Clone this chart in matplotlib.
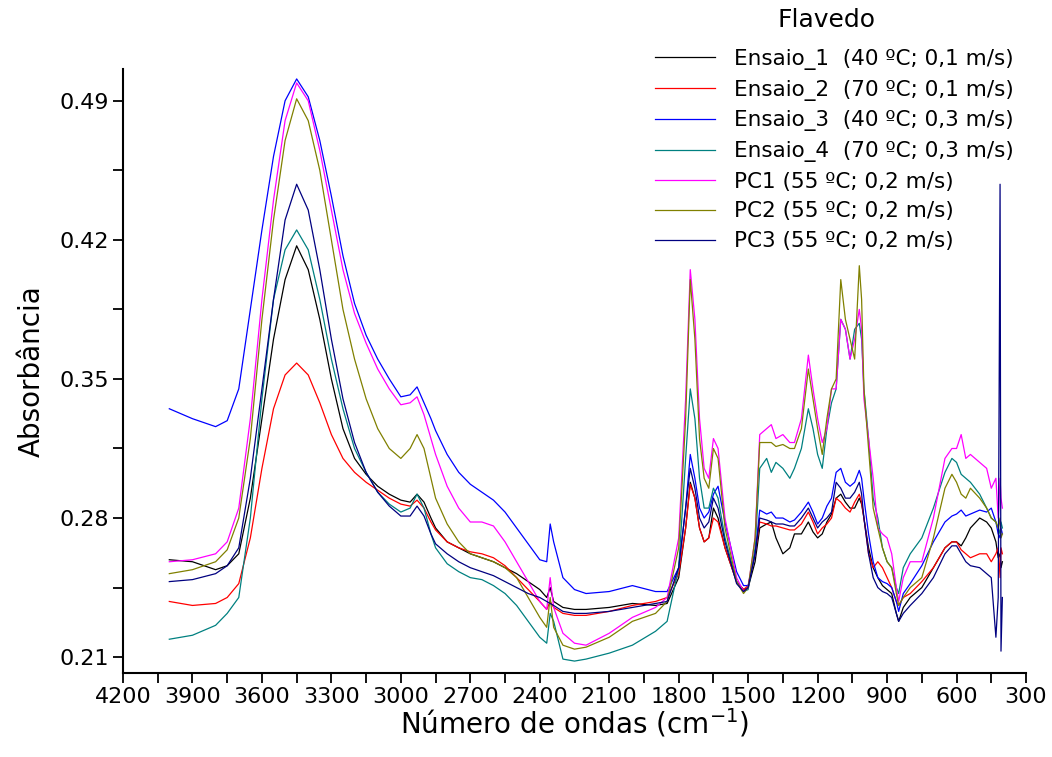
import matplotlib
matplotlib.use("Agg")
import matplotlib.pyplot as plt
from matplotlib.ticker import MultipleLocator

plt.rcParams['font.family'] = ['DejaVu Sans']

wavenumber = [
    4000, 3900, 3800, 3750, 3700, 3650, 3600, 3550, 3500, 3450,
    3400, 3350, 3300, 3250, 3200, 3150, 3100, 3050, 3000, 2960,
    2930, 2900, 2870, 2850, 2800, 2750, 2700, 2650, 2600, 2550,
    2500, 2450, 2400, 2370, 2355, 2340, 2300, 2250, 2200, 2100,
    2000, 1900, 1850, 1800, 1770, 1750, 1730, 1710, 1690, 1670,
    1650, 1630, 1600, 1550, 1520, 1500, 1470, 1450, 1420, 1400,
    1380, 1350, 1320, 1300, 1270, 1240, 1220, 1200, 1180, 1160,
    1140, 1120, 1100, 1080, 1060, 1040, 1020, 1010, 1000, 980,
    960, 940, 920, 900, 880, 860, 850, 830, 800, 750,
    700, 650, 620, 600, 580, 560, 540, 500, 470, 450,
    430, 420, 412, 408, 402,
]

ensaio_1 = [
    .259, .258, .254, .256, .262, .290, .330, .370, .400, .417,
    .405, .380, .350, .325, .310, .302, .296, .292, .289, .288,
    .292, .288, .280, .275, .268, .265, .262, .260, .258, .255,
    .252, .248, .244, .240, .245, .238, .235, .234, .234, .235,
    .237, .236, .237, .250, .275, .298, .290, .275, .268, .270,
    .285, .280, .265, .248, .244, .245, .258, .275, .277, .278,
    .270, .262, .265, .272, .272, .278, .273, .270, .272, .278,
    .282, .290, .292, .288, .285, .285, .290, .287, .280, .265,
    .255, .250, .246, .244, .242, .232, .228, .235, .240, .245,
    .255, .265, .268, .268, .266, .270, .275, .280, .278, .275,
    .268, .260, .262, .255, .258,
]

ensaio_2 = [
    .238, .236, .237, .240, .247, .270, .305, .335, .352, .358,
    .352, .338, .322, .310, .303, .298, .294, .290, .287, .286,
    .289, .285, .278, .274, .268, .265, .263, .262, .260, .256,
    .250, .244, .238, .234, .238, .235, .232, .231, .231, .233,
    .236, .238, .240, .252, .275, .297, .290, .275, .268, .270,
    .280, .278, .265, .248, .244, .246, .262, .278, .277, .276,
    .276, .275, .274, .274, .277, .283, .278, .272, .275, .277,
    .280, .290, .288, .285, .283, .288, .292, .288, .280, .262,
    .255, .258, .255, .250, .245, .238, .236, .240, .242, .248,
    .255, .265, .268, .268, .264, .262, .260, .262, .262, .258,
    .262, .265, .250, .265, .262,
]

ensaio_3 = [
    .335, .330, .326, .329, .345, .385, .425, .462, .490, .501,
    .492, .470, .442, .412, .388, .372, .360, .350, .341, .342,
    .346, .338, .330, .324, .312, .303, .297, .293, .289, .283,
    .275, .267, .259, .258, .277, .268, .250, .244, .242, .243,
    .246, .243, .243, .255, .285, .312, .300, .285, .280, .283,
    .292, .296, .278, .253, .246, .246, .262, .284, .282, .283,
    .280, .280, .278, .279, .283, .288, .283, .277, .280, .286,
    .290, .303, .305, .298, .296, .298, .304, .300, .290, .272,
    .258, .250, .248, .247, .245, .238, .233, .242, .247, .256,
    .268, .278, .281, .282, .284, .281, .282, .284, .283, .285,
    .278, .272, .270, .275, .272,
]

ensaio_4 = [
    .219, .221, .226, .232, .240, .280, .340, .390, .415, .425,
    .415, .390, .360, .335, .315, .303, .293, .287, .283, .285,
    .292, .285, .272, .265, .257, .253, .250, .249, .246, .242,
    .236, .228, .220, .217, .232, .228, .209, .208, .209, .212,
    .216, .223, .228, .255, .310, .345, .330, .300, .285, .285,
    .295, .290, .270, .248, .243, .244, .265, .305, .310, .303,
    .308, .305, .300, .305, .315, .335, .325, .312, .305, .325,
    .338, .345, .380, .375, .360, .375, .378, .370, .345, .320,
    .290, .280, .265, .258, .255, .245, .242, .255, .262, .270,
    .285, .303, .310, .308, .302, .300, .298, .292, .285, .280,
    .278, .275, .272, .278, .275,
]

pc1 = [
    .258, .259, .262, .268, .285, .330, .390, .440, .480, .499,
    .490, .465, .435, .405, .383, .368, .355, .345, .337, .338,
    .341, .332, .320, .312, .296, .285, .278, .278, .276, .268,
    .258, .248, .238, .234, .250, .235, .222, .217, .216, .222,
    .230, .235, .240, .270, .340, .405, .380, .330, .305, .300,
    .320, .315, .280, .250, .243, .245, .270, .322, .325, .327,
    .320, .322, .318, .318, .330, .362, .345, .330, .318, .325,
    .345, .345, .380, .375, .360, .370, .385, .375, .340, .320,
    .300, .275, .272, .270, .262, .245, .238, .250, .258, .258,
    .280, .310, .315, .315, .322, .310, .312, .308, .305, .295,
    .300, .280, .300, .290, .285,
]

pc2 = [
    .252, .254, .258, .264, .280, .320, .380, .430, .470, .491,
    .480, .455, .420, .385, .360, .340, .325, .315, .310, .315,
    .322, .315, .300, .290, .277, .268, .262, .260, .258, .255,
    .250, .240, .230, .225, .240, .225, .216, .214, .215, .220,
    .228, .232, .238, .265, .330, .400, .370, .320, .300, .295,
    .315, .310, .275, .248, .242, .245, .270, .318, .318, .318,
    .316, .317, .315, .315, .325, .355, .340, .325, .312, .330,
    .345, .350, .400, .380, .370, .360, .407, .390, .345, .315,
    .285, .275, .265, .258, .255, .242, .236, .240, .245, .250,
    .270, .295, .302, .298, .292, .290, .295, .290, .285, .280,
    .278, .275, .280, .270, .272,
]

pc3 = [
    .248, .249, .252, .256, .265, .300, .345, .390, .430, .448,
    .435, .405, .370, .340, .318, .303, .293, .286, .281, .281,
    .286, .281, .272, .267, .262, .258, .255, .253, .251, .248,
    .245, .242, .240, .238, .237, .236, .233, .232, .232, .233,
    .235, .237, .238, .255, .285, .305, .295, .280, .275, .278,
    .290, .285, .268, .247, .243, .245, .262, .280, .279, .278,
    .277, .277, .276, .276, .280, .285, .280, .275, .278, .280,
    .283, .298, .295, .290, .290, .293, .298, .292, .280, .262,
    .250, .245, .243, .242, .240, .232, .228, .232, .236, .242,
    .250, .262, .266, .266, .262, .258, .256, .255, .252, .250,
    .220, .240, .448, .213, .240,
]

labels = [
    "Ensaio_1  (40 ºC; 0,1 m/s)",
    "Ensaio_2  (70 ºC; 0,1 m/s)",
    "Ensaio_3  (40 ºC; 0,3 m/s)",
    "Ensaio_4  (70 ºC; 0,3 m/s)",
    "PC1 (55 ºC; 0,2 m/s)",
    "PC2 (55 ºC; 0,2 m/s)",
    "PC3 (55 ºC; 0,2 m/s)",
]
legend_title = "Flavedo"
series = [ensaio_1, ensaio_2, ensaio_3, ensaio_4, pc1, pc2, pc3]
colors = ["#000000", "#FF0000", "#0000FF", "#008080", "#FF00FF", "#808000", "#000080"]

fig = plt.figure(figsize=(10.52, 7.57), dpi=100)
W, H = 1052, 757
ax = fig.add_axes([123 / W, 1 - 673 / H, (1026 - 123) / W, (673 - 69) / H])

for vals, lab, col in zip(series, labels, colors):
    ax.plot(wavenumber, vals, color=col, lw=0.9, label=lab)

ax.set_xlim(4200, 300)
ax.set_ylim(0.202, 0.506)
ax.xaxis.set_major_locator(MultipleLocator(300))
ax.xaxis.set_minor_locator(MultipleLocator(150))
ax.set_yticks([0.21, 0.28, 0.35, 0.42, 0.49])
ax.set_yticklabels(["0.21", "0.28", "0.35", "0.42", "0.49"])
ax.yaxis.set_minor_locator(MultipleLocator(0.035))

for s in ["top", "right"]:
    ax.spines[s].set_visible(False)
for s in ["left", "bottom"]:
    ax.spines[s].set_linewidth(1.5)

ax.tick_params(which="both", direction="out", length=7, width=1.3, labelsize=16, pad=3)

ax.set_xlabel("Número de ondas (cm$^{-1}$)", fontsize=20, labelpad=0)
ax.set_ylabel("Absorbância", fontsize=20, labelpad=10)

ax.legend(loc="upper left", bbox_to_anchor=(655 / W, 1 - 49 / H), bbox_transform=fig.transFigure,
          frameon=False, fontsize=15.5,
          handlelength=2.8, handletextpad=0.85, labelspacing=0.45,
          borderpad=0, borderaxespad=0)
fig.text(826 / W, 1 - 20 / H, legend_title, fontsize=18, ha="center", va="center")

fig.savefig("out.png", dpi=100)
